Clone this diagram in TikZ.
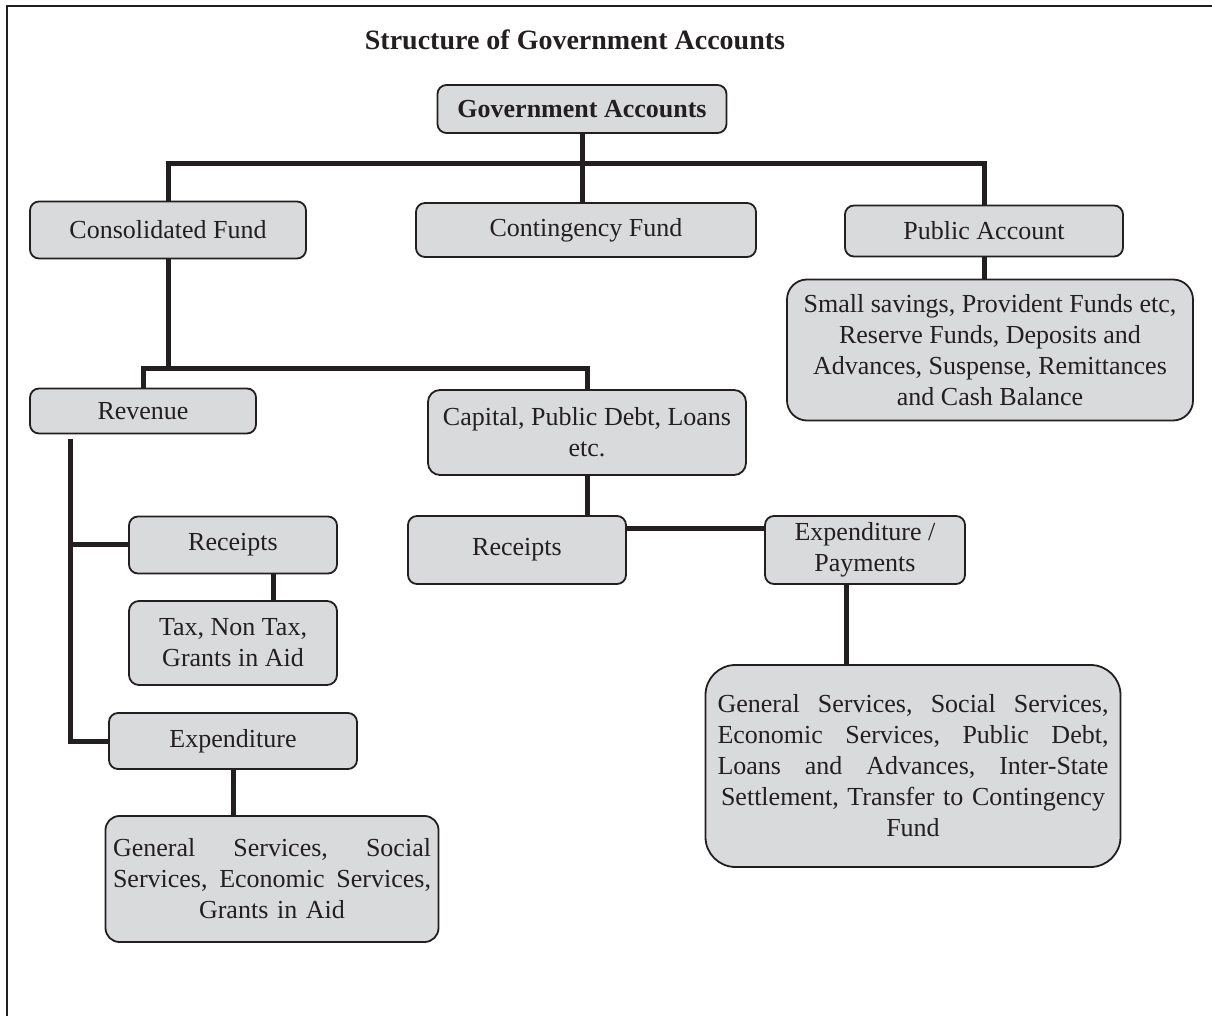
\documentclass[tikz,border=0pt]{standalone}
\usepackage{fontspec}
\setmainfont{Liberation Serif}
\usetikzlibrary{positioning}
\definecolor{boxgray}{RGB}{217,218,220}
\definecolor{ink}{RGB}{35,31,32}
\newcommand{\fullline}[2]{\leavevmode\hbox to #1{#2}} % a justified line: words spread with \hfill
\tikzset{
    x=0.5pt, y=-0.5pt, % one unit is one pixel of the scan
    every node/.style={font=\fontsize{13pt}{15.5pt}\selectfont, text=ink}, % body text
    box/.style={draw=ink, fill=boxgray, line width=0.9pt, rounded corners=4.5pt,
        inner sep=0pt, align=center}, % every account box
    link/.style={draw=ink, line width=2.5pt}, % the thick tree lines
    frame/.style={draw=ink, line width=1pt},
}

\begin{document}
\begin{tikzpicture}
    \useasboundingbox (0,0) rectangle (1212,1016);
    \draw[frame] (7,1016) -- (7,6) -- (1212,6);

    \node[font=\bfseries\fontsize{14pt}{17pt}\selectfont] (title) at (575,40) {Structure of Government Accounts};

    % top level
    \node[box, font=\bfseries\fontsize{13pt}{15.5pt}\selectfont, minimum width=144.5pt, minimum height=24pt] (gov) at (582,109) {Government Accounts};
    \node[box, minimum width=138pt, minimum height=28.5pt] (cons) at (168,230) {Consolidated Fund};
    \node[box, minimum width=170pt, minimum height=27pt] (cont) at (586,230) {Contingency Fund};
    \node[box, minimum width=139pt, minimum height=25.5pt] (pub) at (984,231) {Public Account};
    \node[box, rounded corners=10pt, minimum width=203pt, minimum height=70.5pt] (pubd) at (990,350)
        {Small savings, Provident Funds etc,\\ Reserve Funds, Deposits and\\ Advances, Suspense, Remittances\\ and Cash Balance};

    % consolidated fund
    \node[box, minimum width=113pt, minimum height=22.5pt] (rev) at (143,411) {Revenue};
    \node[box, rounded corners=6pt, minimum width=159pt, minimum height=42.5pt] (cap) at (587,432.5) {Capital, Public Debt, Loans\\ etc.};
    \node[box, minimum width=104pt, minimum height=28.5pt] (rec1) at (233,545) {Receipts};
    \node[box, rounded corners=5pt, minimum width=104pt, minimum height=42pt] (tax) at (233,643) {Tax, Non Tax,\\ Grants in Aid};
    \node[box, minimum width=124pt, minimum height=28pt] (expd) at (233,741) {Expenditure};
    \node[box, rounded corners=7pt, minimum width=166.5pt, minimum height=63pt, text width=159pt] (gen) at (272,879)
        {\fullline{159pt}{General\hfill Services,\hfill Social}\\
         \fullline{159pt}{Services,\hfill Economic\hfill Services,}\\ Grants in Aid};
    \node[box, minimum width=109pt, minimum height=34pt] (rec2) at (517,550) {Receipts};
    \node[box, minimum width=100pt, minimum height=34pt] (exppay) at (865,550) {Expenditure /\\ Payments};
    \node[box, rounded corners=15pt, minimum width=207.5pt, minimum height=101pt, text width=195.5pt] (bigr) at (913,766)
        {\fullline{195.5pt}{General\hfill Services,\hfill Social\hfill Services,}\\
         \fullline{195.5pt}{Economic\hfill Services,\hfill Public\hfill Debt,}\\
         \fullline{195.5pt}{Loans\hfill and\hfill Advances,\hfill Inter-State}\\
         Settlement, Transfer to Contingency\\ Fund};

    % junctions
    \coordinate (jtop) at (582,164);
    \coordinate (jcons) at (168,369);
    \coordinate (rtop) at (70,439);

    % tree lines
    \draw[link] (gov.south) -- (gov.south |- cont.north);
    \draw[link] (cons.north) |- (jtop) -| (pub.north);
    \draw[link] (pub.south) -- (pub.south |- pubd.north);
    \draw[link] (cons.south) -- (jcons);
    \draw[link] (rev.north) |- (jcons) -| (cap.north);
    \draw[link] (cap.south) -- (cap.south |- rec2.north);
    \draw[link] ([yshift=10.5pt]rec2.east) -- ([yshift=10.5pt]exppay.west);
    \draw[link] ([xshift=-9.5pt]exppay.south) -- ([xshift=-9.5pt]exppay.south |- bigr.north);
    \draw[link] (rtop) |- (expd.west);
    \draw[link] (rtop |- rec1.west) -- (rec1.west);
    \draw[link] ([xshift=20pt]rec1.south) -- ([xshift=20pt]tax.north);
    \draw[link] (expd.south) -- (expd.south |- gen.north);
\end{tikzpicture}
\end{document}
